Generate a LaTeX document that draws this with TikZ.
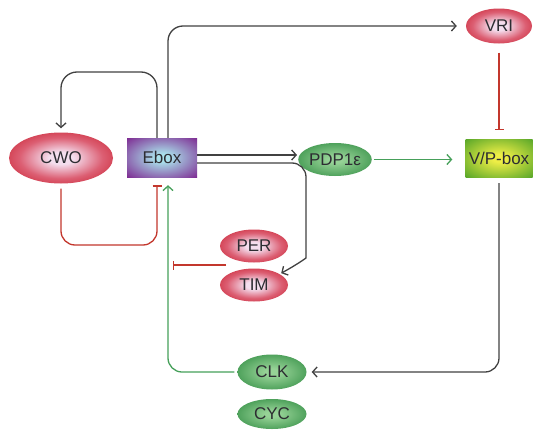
\documentclass[tikz,border=0pt]{standalone}
\usepackage{fontspec}
\setmainfont{Liberation Sans}
\usetikzlibrary{shapes.geometric,arrows.meta,calc}
\definecolor{redout}{RGB}{200,30,45}
\definecolor{redmid}{RGB}{220,95,115}
\definecolor{redin}{RGB}{244,222,238}
\definecolor{greenout}{RGB}{40,135,60}
\definecolor{greenin}{RGB}{150,210,150}
\definecolor{purpout}{RGB}{125,40,145}
\definecolor{purpin}{RGB}{170,225,235}
\definecolor{vpout}{RGB}{85,165,40}
\definecolor{vpin}{RGB}{238,238,70}
\definecolor{txt}{RGB}{45,45,50}
\definecolor{lblack}{RGB}{65,65,65}
\definecolor{lred}{RGB}{195,55,45}
\definecolor{lgreen}{RGB}{70,160,90}
\pgfdeclareradialshading{redsh}{\pgfpoint{0bp}{0bp}}{color(0bp)=(redin); color(6bp)=(redin); color(20bp)=(redmid); color(34bp)=(redout); color(50bp)=(redout)}
\pgfdeclareradialshading{greensh}{\pgfpoint{0bp}{0bp}}{color(0bp)=(greenin); color(5bp)=(greenin); color(36bp)=(greenout); color(50bp)=(greenout)}
\pgfdeclareradialshading{eboxsh}{\pgfpoint{0bp}{0bp}}{color(0bp)=(purpin); color(5bp)=(purpin); color(36bp)=(purpout); color(50bp)=(purpout)}
\pgfdeclareradialshading{vpsh}{\pgfpoint{0bp}{0bp}}{color(0bp)=(vpin); color(5bp)=(vpin); color(36bp)=(vpout); color(50bp)=(vpout)}
\begin{document}
\begin{tikzpicture}[x=1pt,y=-1pt,
  every node/.style={font=\fontsize{17}{19}\selectfont, text=txt, inner sep=0pt},
  rednode/.style={ellipse, shading=redsh, minimum width=68pt, minimum height=33pt},
  greennode/.style={ellipse, shading=greensh, minimum width=69pt, minimum height=34pt},
  arr/.style={draw=lblack, line width=1.3pt, -{Straight Barb[length=4.5pt,width=10pt]}},
  garr/.style={draw=lgreen, line width=1.3pt, -{Straight Barb[length=4.5pt,width=10pt]}},
  inh/.style={draw=lred, line width=1.3pt, -{Bar[width=9pt]}}
]
\useasboundingbox[fill=white] (0,0) rectangle (535,431);
\node[rednode, minimum width=104pt, minimum height=51pt] (cwo) at (61,158) {CWO};
\node[rectangle, shading=eboxsh, minimum width=70pt, minimum height=39pt] (ebox) at (162,157.5) {Ebox};
\node[greennode, minimum width=70pt, minimum height=33pt] (pdp) at (335,159.5) {PDP1ε};
\node[rectangle, shading=vpsh, minimum width=67pt, minimum height=38pt] (vp) at (499,158) {V/P-box};
\node[rednode, minimum width=66pt, minimum height=35pt] (vri) at (499,26) {VRI};
\node[rednode] (per) at (254,246) {PER};
\node[rednode] (tim) at (254,285) {TIM};
\node[greennode, minimum height=35pt] (clk) at (272,372) {CLK};
\node[greennode, minimum height=30pt] (cyc) at (272,414) {CYC};
\coordinate (pt) at (226,265);
% Ebox -> VRI
\draw[arr, rounded corners=15pt, shorten >=9pt] (ebox.north -| 168,0) |- (vri.west);
% Ebox -> CWO loop
\draw[arr, rounded corners=16pt, shorten >=4pt] (ebox.north -| 157,0) -- (157,72) -| (cwo.north);
% Ebox -> PDP1e
\draw[arr, shorten >=1pt] (ebox.east |- 0,155) -- (pdp.west |- 0,155);
% Ebox -> TIM
\draw[arr, rounded corners=14pt] (ebox.east |- 0,163) -- (306,163) -- (306,244) [sharp corners] .. controls (306,258) and (298,264) .. ([xshift=3pt]tim.north east);
% CWO -| Ebox
\draw[inh, rounded corners=14pt, shorten <=5pt, shorten >=8pt] (cwo.south) -- (61,245) -- (157,245) -- (ebox.south -| 157,0);
% PDP1e -> V/P-box
\draw[garr, shorten <=2pt, shorten >=13pt] (pdp.east) -- (pdp.east -| vp.west);
% VRI -| V/P-box
\draw[inh, shorten <=9pt, shorten >=9pt] (vri.south) -- (vp.north);
% V/P-box -> CLK
\draw[arr, rounded corners=14pt, shorten <=6pt, shorten >=5pt] (vp.south) -- (vp.south |- clk.east) -- (clk.east);
% CLK -> Ebox
\draw[garr, rounded corners=14pt, shorten <=3pt, shorten >=8pt] (clk.west) -- (clk.west -| 168,0) -- (ebox.south -| 168,0);
% PER/TIM -| Ebox
\draw[inh, shorten >=5pt] (pt) -- (pt -| 168,0);
\end{tikzpicture}
\end{document}
